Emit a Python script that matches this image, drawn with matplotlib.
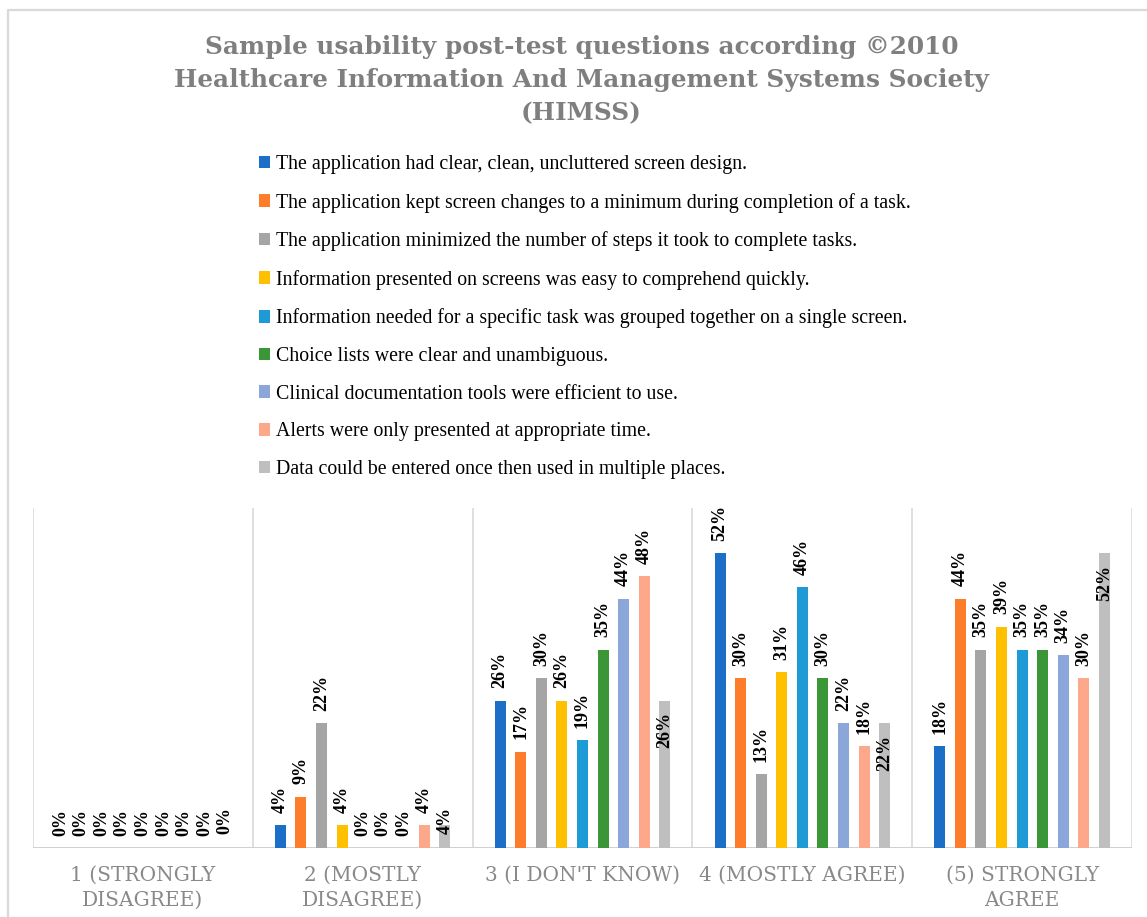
"""
Grouped bar chart of HIMSS usability post-test answers (share of respondents
per answer level, one bar per question).
"""

import matplotlib.pyplot as plt
from matplotlib.lines import Line2D

categories = ["1 (STRONGLY\nDISAGREE)", "2 (MOSTLY\nDISAGREE)", "3 (I DON'T KNOW)",
              "4 (MOSTLY AGREE)", "(5) STRONGLY\nAGREE"]

questions = [
    "The application had clear, clean, uncluttered screen design.",
    "The application kept screen changes to a minimum during completion of a task.",
    "The application minimized the number of steps it took to complete tasks.",
    "Information presented on screens was easy to comprehend quickly.",
    "Information needed for a specific task was grouped together on a single screen.",
    "Choice lists were clear and unambiguous.",
    "Clinical documentation tools were efficient to use.",
    "Alerts were only presented at appropriate time.",
    "Data could be entered once then used in multiple places.",
]

# percent per question, one value per answer level
clear_design = [0, 4, 26, 52, 18]
minimal_changes = [0, 9, 17, 30, 44]
minimal_steps = [0, 22, 30, 13, 35]
easy_comprehend = [0, 4, 26, 31, 39]
grouped_info = [0, 0, 19, 46, 35]
choice_lists = [0, 0, 35, 30, 35]
doc_tools = [0, 0, 44, 22, 34]
alerts = [0, 4, 48, 18, 30]
data_reuse = [0, 4, 26, 22, 52]

series = [clear_design, minimal_changes, minimal_steps, easy_comprehend,
          grouped_info, choice_lists, doc_tools, alerts, data_reuse]

colors = ["#1B6FC6", "#FD7D2A", "#A5A5A5", "#FFC000", "#1E9AD6",
          "#3A9636", "#8BA7DA", "#FDA88A", "#BFBFBF"]

grid_color = "#D9D9D9"
text_gray = "#898989"

fig = plt.figure(figsize=(11.47, 9.17), dpi=100)
ax = fig.add_axes([33 / 1147, 69 / 917, 1099 / 1147, 340 / 917])

pitch = 0.0936
width = 0.05
label_kw = dict(textcoords="offset points", rotation=90, ha="center",
                fontsize=13, fontweight="bold", family="Liberation Serif", zorder=4)
handles = []
for j, (vals, col) in enumerate(zip(series, colors)):
    xs = [i + 0.5 + (j - 4) * pitch for i in range(len(categories))]
    bars = ax.bar(xs, vals, width=width, color=col, label=questions[j], zorder=3)
    handles.append(bars)
    last = j == len(series) - 1
    for x, v in zip(xs, vals):
        if last and v >= 10:
            # inside end
            ax.annotate(f"{v}%", (x, v), xytext=(0, -8), va="top", **label_kw)
        elif last:
            ax.annotate(f"{v}%", (x, 0), xytext=(0, 10), va="bottom", **label_kw)
        else:
            ax.annotate(f"{v}%", (x, v), xytext=(0, 9), va="bottom", **label_kw)

ax.set_xlim(0, 5)
ax.set_ylim(0, 60)
for b in range(6):
    ax.axvline(b, color=grid_color, lw=1.2, zorder=1)
ax.axhline(0, color="#D0D0D0", lw=1.4, zorder=2)

for s in ax.spines.values():
    s.set_visible(False)
ax.set_yticks([])
ax.set_xticks([i + 0.5 for i in range(len(categories))])
ax.set_xticklabels(categories, family="DejaVu Serif", fontsize=14.5,
                   color=text_gray, linespacing=1.38)
ax.tick_params(axis="x", length=0, pad=13)

fig.text(0.507, 1 - 35 / 917,
         "Sample usability post-test questions according ©2010\n"
         "Healthcare Information And Management Systems Society\n(HIMSS)",
         ha="center", va="top", family="DejaVu Serif", fontweight="bold",
         fontsize=17.8, color="#7F7F7F", linespacing=1.48)

fig.legend(handles=handles, labels=questions, loc="upper left",
           bbox_to_anchor=(251 / 1147, 1 - 147 / 917), frameon=False,
           prop={"family": "Liberation Serif", "size": 14.3},
           handlelength=0.55, handleheight=0.6, handletextpad=0.3,
           labelspacing=0.94, borderaxespad=0)

# chart border
fig.add_artist(Line2D([8 / 1147, 8 / 1147, 1.0], [0.0, 1 - 10 / 917, 1 - 10 / 917],
                      transform=fig.transFigure, color=grid_color, lw=1.6))

fig.savefig("out.png", dpi=100)
